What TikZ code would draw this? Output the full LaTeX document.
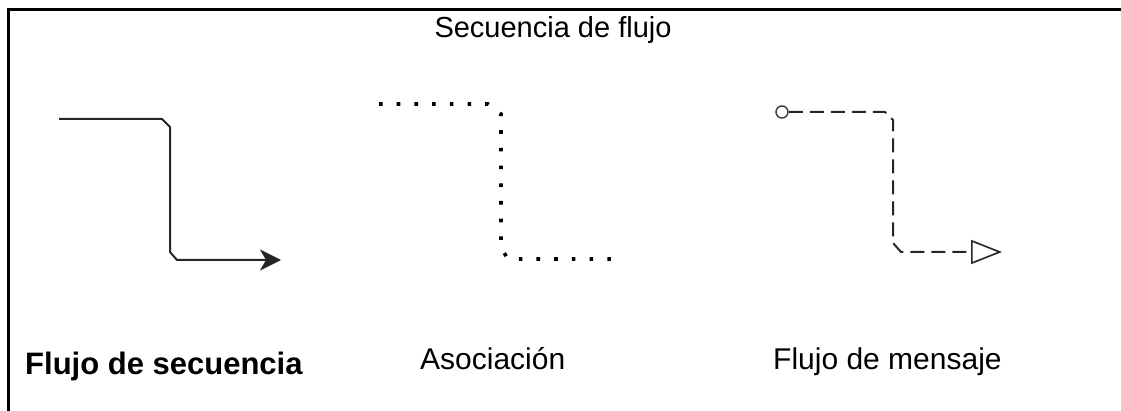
\documentclass[tikz,border=0pt]{standalone}
\usepackage{fontspec}
\setmainfont{Liberation Sans}
\usetikzlibrary{arrows.meta}
\begin{document}
\begin{tikzpicture}[x=1pt,y=1pt,
  lbl/.style={inner sep=0pt,anchor=base west,font=\fontsize{30}{36}\selectfont},
  seqline/.style={line width=2pt,draw=black!85},
  assocline/.style={line width=3.6pt,dash pattern=on 3.6pt off 14.1pt},
  msgline/.style={line width=2pt,draw=black!85,dash pattern=on 14pt off 7pt},
  framestyle/.style={line width=3pt}]
\useasboundingbox (0,0) rectangle (1121,-411);
% frame (top and left edges)
\draw[framestyle] (8,-411) -- (8,-9.5) -- (1121,-9.5);
% title
\node[inner sep=0pt,anchor=base,font=\fontsize{29}{35}\selectfont] (title) at (553,-38) {Secuencia de flujo};
% sequence flow
\coordinate (s1) at (59,-119);
\coordinate (s2) at (281,-260);
\draw[seqline,-{Stealth[length=21pt,width=21pt,inset=6pt]}]
  (s1) -- (162,-119) -- (170,-127) -- (170,-252) -- (177,-260) -- (s2);
% association
\coordinate (a1) at (379,-104);
\coordinate (a2) at (614,-259);
\draw[assocline] (a1) -- (488,-104) -- (501,-114) -- (501,-248) -- (508,-259) -- (a2);
% message flow
\node[circle,draw=black!75,line width=1.5pt,minimum size=12pt,inner sep=0pt] (m0) at (782,-112) {};
\coordinate (m1) at (1002,-252);
\draw[msgline,-{Triangle[open,length=31pt,width=24pt,line width=1.6pt]}]
  (m0.east) -- (885,-112) -- (893,-120) -- (893,-243) -- (901,-252) -- (m1);
% labels
\node[lbl,font=\fontsize{31}{37}\selectfont\bfseries] (l1) at (25,-374) {Flujo de secuencia};
\node[lbl] (l2) at (420,-369) {Asociación};
\node[lbl] (l3) at (773,-369) {Flujo de mensaje};
\end{tikzpicture}
\end{document}
